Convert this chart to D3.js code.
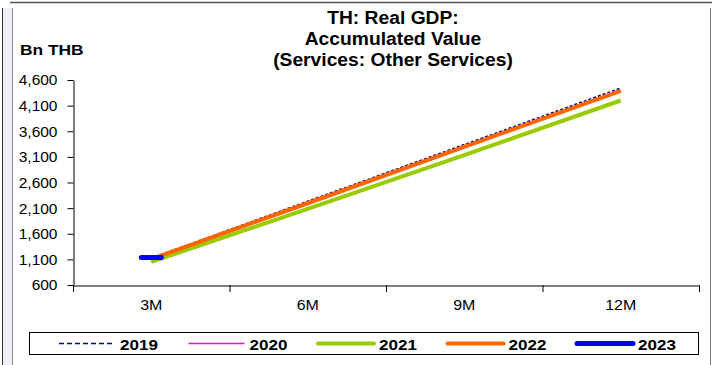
<!DOCTYPE html>
<html>
<head>
<meta charset="utf-8">
<script src="https://cdn.jsdelivr.net/npm/d3@7"></script>
<style>
  body { margin: 0; background: #fff; }
  svg { display: block; font-family: "Liberation Sans", Arial, sans-serif; }
</style>
</head>
<body>
<svg width="712" height="365"></svg>
<script>
const periods = ['3M', '6M', '9M', '12M'];
const years = ['2019', '2020', '2021', '2022', '2023'];
const values2019 = [1125, 2235, 3340, 4444];
const values2020 = [1100, 2190, 3290, 4385];
const values2021 = [1050, 2085, 3135, 4200];
const values2022 = [1105, 2195, 3295, 4390];
const values2023 = [1135];
const yTicks = [600, 1100, 1600, 2100, 2600, 3100, 3600, 4100, 4600];
const titleLines = ['TH: Real GDP:', 'Accumulated Value', '(Services: Other Services)'];

const series = [
  { name: years[0], values: values2019, color: '#000080', width: 1.5, dash: '3,2', legendDash: '5,3' },
  { name: years[1], values: values2020, color: '#ff00ff', width: 1.5, dash: null, legendDash: null },
  { name: years[2], values: values2021, color: '#99cc00', width: 4, dash: null, legendDash: null },
  { name: years[3], values: values2022, color: '#ff6600', width: 4, dash: null, legendDash: null },
  { name: years[4], values: values2023, color: '#0000ff', width: 5, dash: null, legendDash: null },
];

const svg = d3.select('svg');

// widen text like the original (which was stretched horizontally)
const widen = (stretch) => (sel) => sel.each(function () {
  const w = this.getComputedTextLength();
  this.setAttribute('textLength', w * stretch);
  this.setAttribute('lengthAdjust', 'spacingAndGlyphs');
});

// frame
svg.append('rect').attr('x', 3).attr('y', 8).attr('width', 9).attr('height', 357).attr('fill', '#eef0f7');
svg.append('line').attr('x1', 10).attr('x2', 712).attr('y1', 2.5).attr('y2', 2.5).attr('stroke', '#555').attr('stroke-width', 1.5);
svg.append('line').attr('x1', 2.5).attr('x2', 2.5).attr('y1', 8).attr('y2', 365).attr('stroke', '#333');
svg.append('line').attr('x1', 12.5).attr('x2', 12.5).attr('y1', 8).attr('y2', 365).attr('stroke', '#888');
svg.append('line').attr('x1', 710.5).attr('x2', 710.5).attr('y1', 8).attr('y2', 365).attr('stroke', '#777');

const x = d3.scaleBand().domain(periods).range([73, 699]).padding(0);
const y = d3.scaleLinear().domain([600, 4600]).range([285, 80]);

// title
svg.append('g').selectAll('text')
  .data(titleLines)
  .enter().append('text')
  .attr('x', 393)
  .attr('y', (d, i) => 24 + i * 21)
  .attr('text-anchor', 'middle')
  .attr('font-size', 17.5)
  .attr('font-weight', 'bold')
  .text(d => d)
  .call(widen(1.1));

svg.append('text')
  .attr('x', 20).attr('y', 55)
  .attr('font-size', 15.5).attr('font-weight', 'bold')
  .text('Bn THB')
  .call(widen(1.12));

// y axis
const yAxis = svg.append('g')
  .attr('transform', 'translate(73.5,0)')
  .call(d3.axisLeft(y).tickValues(yTicks).tickFormat(d3.format(',')).tickSize(6).tickSizeOuter(0).tickPadding(10));
yAxis.selectAll('text').attr('font-size', 15.5).attr('fill', '#000').call(widen(1.0));
yAxis.selectAll('line, path').attr('stroke', '#000');

// x axis
const xAxis = svg.append('g')
  .attr('transform', 'translate(0,285.5)')
  .call(d3.axisBottom(x).tickSize(0).tickPadding(13));
xAxis.select('.domain').attr('stroke', '#000');
xAxis.selectAll('text').attr('font-size', 15.5).attr('fill', '#000').call(widen(1.03));
svg.append('g').selectAll('line')
  .data(periods.concat(['end']))
  .enter().append('line')
  .attr('x1', (d, i) => i < periods.length ? x(d) + 0.5 : x.range()[1] + 0.5)
  .attr('x2', (d, i) => i < periods.length ? x(d) + 0.5 : x.range()[1] + 0.5)
  .attr('y1', 285).attr('y2', 292)
  .attr('stroke', '#000');

// lines
const line = d3.line()
  .x((d, i) => x(periods[i]) + x.bandwidth() / 2)
  .y(d => y(d));

svg.append('g').selectAll('path')
  .data(series.filter(s => s.values.length > 1))
  .enter().append('path')
  .attr('d', s => line(s.values))
  .attr('fill', 'none')
  .attr('stroke', s => s.color)
  .attr('stroke-width', s => s.width)
  .attr('stroke-dasharray', s => s.dash);

// single point series drawn as a dash marker
series.filter(s => s.values.length === 1).forEach(s => {
  const cx = x(periods[0]) + x.bandwidth() / 2;
  svg.append('line')
    .attr('x1', cx - 10).attr('x2', cx + 10)
    .attr('y1', y(s.values[0])).attr('y2', y(s.values[0]))
    .attr('stroke', s.color)
    .attr('stroke-width', s.width)
    .attr('stroke-linecap', 'round');
});

// legend
const legend = svg.append('g');
legend.append('rect')
  .attr('x', 29.5).attr('y', 332.5).attr('width', 669).attr('height', 22)
  .attr('fill', '#fff').attr('stroke', '#000');

const item = legend.selectAll('.item')
  .data(series)
  .enter().append('g')
  .attr('class', 'item')
  .attr('transform', (d, i) => `translate(${59 + i * 129.5},343.5)`);

item.append('line')
  .attr('x1', 0).attr('x2', 56)
  .attr('stroke', s => s.color)
  .attr('stroke-width', s => s.width)
  .attr('stroke-dasharray', s => s.legendDash)
  .attr('stroke-linecap', s => s.width > 2 ? 'round' : 'butt');

item.append('text')
  .attr('x', 61).attr('y', 6)
  .attr('font-size', 15.5).attr('font-weight', 'bold')
  .text(s => s.name)
  .call(widen(1.1));
</script>
</body>
</html>
